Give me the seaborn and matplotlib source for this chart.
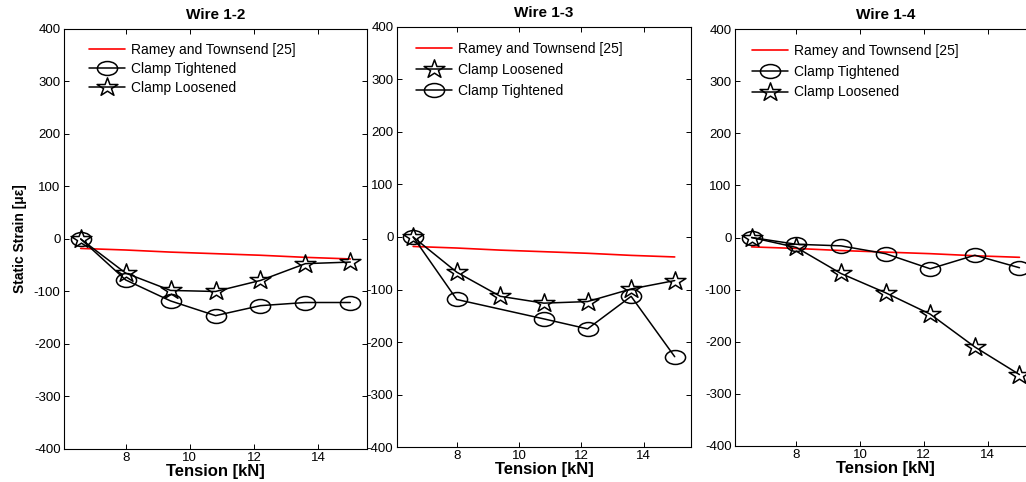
import numpy as np
import pandas as pd
import matplotlib
matplotlib.use("Agg")
import matplotlib.pyplot as plt
import seaborn as sns
from matplotlib.path import Path

# ---------------- data ----------------
tension = [6.6, 8.0, 9.4, 10.8, 12.2, 13.6, 15.0]
tension_13_tight = [6.6, 8.0, 10.8, 12.2, 13.6, 15.0]
ramey = [-18, -21, -25, -28, -31, -35, -38]

w12_tight = [0, -78, -118, -146, -127, -121, -121]
w12_loose = [0, -65, -98, -100, -79, -47, -44]

w13_loose = [0, -67, -113, -126, -123, -99, -83]
w13_tight = [0, -119, -156, -175, -113, -228]

w14_tight = [0, -13, -16, -31, -60, -34, -58]
w14_loose = [0, -19, -69, -106, -147, -210, -263]

titles = ["Wire 1-2", "Wire 1-3", "Wire 1-4"]
lbl_ramey = "Ramey and Townsend [25]"
lbl_tight = "Clamp Tightened"
lbl_loose = "Clamp Loosened"
y_ticks = [-400, -300, -200, -100, 0, 100, 200, 300, 400]
x_ticks = [8, 10, 12, 14]

# ---------------- style ----------------
sns.set_style("ticks")
plt.rcParams['font.family'] = ['Liberation Sans', 'DejaVu Sans']
plt.rcParams['axes.unicode_minus'] = False
plt.rcParams['axes.linewidth'] = 0.8
plt.rcParams['text.color'] = 'black'
plt.rcParams['axes.labelcolor'] = 'black'
plt.rcParams['xtick.color'] = 'black'
plt.rcParams['ytick.color'] = 'black'

# stretched markers (reference image is horizontally stretched)
_c = Path.unit_circle()
ellipse = Path(_c.vertices * np.array([1.0, 0.69]), _c.codes)
_s = Path.unit_regular_star(5, 0.38)
star = Path(_s.vertices * np.array([1.0, 0.88]), _s.codes)

fig = plt.figure(figsize=(10.26, 4.82), dpi=100)
positions = [
    [0.0624, 0.0685, 0.2953, 0.8714],
    [0.3869, 0.0726, 0.2865, 0.8714],
    [0.7164, 0.0747, 0.2934, 0.8651],
]

panels = [
    [("ramey", tension, ramey), ("tight", tension, w12_tight), ("loose", tension, w12_loose)],
    [("ramey", tension, ramey), ("loose", tension, w13_loose), ("tight", tension_13_tight, w13_tight)],
    [("ramey", tension, ramey), ("tight", tension, w14_tight), ("loose", tension, w14_loose)],
]
legend_anchor = [(0.083, 0.967), (0.065, 0.965), (0.056, 0.965)]
legend_spacing = [0.35, 0.5, 0.5]

for i, (pos, series) in enumerate(zip(positions, panels)):
    ax = fig.add_axes(pos)
    for kind, xs, ys in series:
        df = pd.DataFrame({"x": xs, "y": ys})
        if kind == "ramey":
            sns.lineplot(data=df, x="x", y="y", ax=ax, color="red", linewidth=1.2,
                         label=lbl_ramey, sort=False, estimator=None)
        elif kind == "tight":
            sns.lineplot(data=df, x="x", y="y", ax=ax, color="black", linewidth=1.1,
                         marker=ellipse, markersize=14.5, markerfacecolor="none",
                         markeredgecolor="black", markeredgewidth=1.1,
                         label=lbl_tight, sort=False, estimator=None)
        else:
            sns.lineplot(data=df, x="x", y="y", ax=ax, color="black", linewidth=1.1,
                         marker=star, markersize=15, markerfacecolor="none",
                         markeredgecolor="black", markeredgewidth=1.1,
                         label=lbl_loose, sort=False, estimator=None)
    ax.set_xlim(6.08, 15.52)
    ax.set_ylim(-400, 400)
    ax.set_xticks(x_ticks)
    ax.set_yticks(y_ticks)
    ax.tick_params(direction="in", top=True, right=True, length=3.5, width=0.7,
                   labelsize=9.5, pad=2.5, colors="black")
    for sp in ax.spines.values():
        sp.set_visible(True)
        sp.set_color("black")
    ax.set_title(titles[i], fontsize=11, fontweight="bold", pad=7, color="black")
    ax.set_xlabel("Tension [kN]", fontsize=12, fontweight="bold", labelpad=0, color="black")
    if i == 0:
        ax.set_ylabel("Static Strain [\u03bc\u03b5]", fontsize=10, fontweight="bold",
                      labelpad=5, color="black")
    else:
        ax.set_ylabel("")
    ax.legend(loc="upper left", bbox_to_anchor=legend_anchor[i], frameon=False,
              fontsize=10, borderpad=0, borderaxespad=0, handlelength=2.6,
              handletextpad=0.4, labelspacing=legend_spacing[i], labelcolor="black")

fig.savefig("out.png", dpi=100)
